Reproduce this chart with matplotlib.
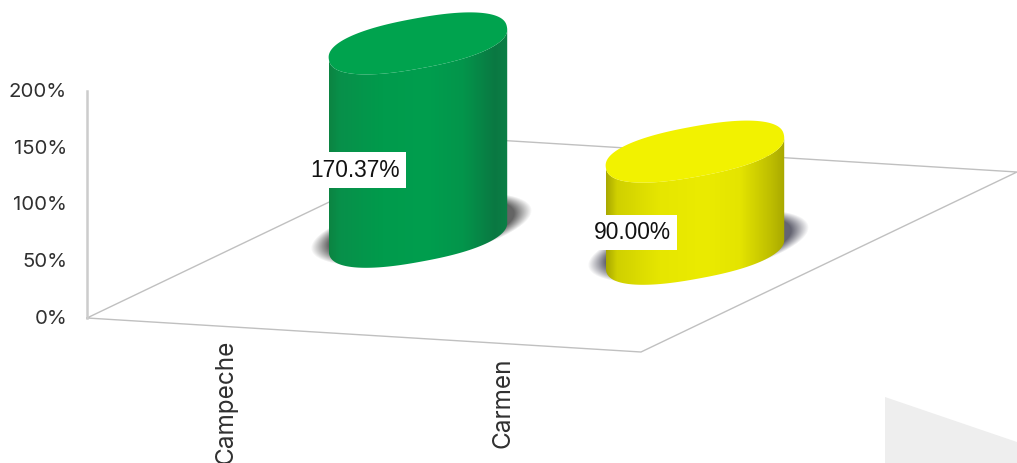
import numpy as np
import matplotlib
matplotlib.use('Agg')
import matplotlib.pyplot as plt
from matplotlib.colors import LinearSegmentedColormap, to_rgb
from matplotlib.patches import Polygon, PathPatch
from matplotlib.path import Path

categories = ['Campeche', 'Carmen']
values = [170.37, 90.00]
value_labels = ['170.37%', '90.00%']
y_ticks = [0, 50, 100, 150, 200]
y_tick_labels = ['0%', '50%', '100%', '150%', '200%']

shade_stops = [0.0, 0.06, 0.3, 0.55, 0.75, 0.93, 1.0]
body_colors = [
    ['#0c8442', '#08904a', '#009b4c', '#009e4e', '#03954b', '#0a7842', '#0a8046'],
    ['#a8a800', '#d0d000', '#e6e600', '#ebeb00', '#e4e400', '#bcbc00', '#a8a800'],
]
top_colors = ['#00a34e', '#f2f200']
shadow_colors = ['#484848', '#484858']

# projection of the floor and value axis onto the image, in pixels
ORIGIN = np.array([87.0, 318.0])
CAT_STEP = np.array([277.0, 17.0])
DEPTH = np.array([376.0, -180.0])
PX_PER_PCT = 227.0 / 200.0
CAT_OFFSET = 0.516

# bar section: slightly squared ellipse, tilted
TILT = np.radians(10.5)
MAJOR = 90.5 * np.array([np.cos(TILT), -np.sin(TILT)])
MINOR = 25.0 * np.array([np.sin(TILT), np.cos(TILT)])
ROUND = 0.85


def floor_point(cat: float, depth: float) -> np.ndarray:
    return ORIGIN + cat * CAT_STEP + depth * DEPTH


def section(center: np.ndarray, t: np.ndarray) -> np.ndarray:
    c = np.sign(np.cos(t)) * np.abs(np.cos(t)) ** ROUND
    s = np.sign(np.sin(t)) * np.abs(np.sin(t)) ** ROUND
    return center + np.outer(c, MAJOR) + np.outer(s, MINOR)


fig = plt.figure(figsize=(10.17, 4.63), dpi=100)
ax = fig.add_axes([0, 0, 1, 1])

# faint wedge in the corner
ax.add_patch(Polygon([(885, 397), (1017, 442), (1017, 463), (885, 463)],
                     closed=True, facecolor='#eeeeee', edgecolor='none', zorder=0))

# floor and value axis
corners = [floor_point(0, 0), floor_point(2, 0), floor_point(2, 1), floor_point(0, 1), floor_point(0, 0)]
ax.plot([c[0] for c in corners], [c[1] for c in corners], color='#c0c0c0', lw=1.0, zorder=1)
ax.plot([ORIGIN[0]] * 2, [ORIGIN[1], ORIGIN[1] - max(y_ticks) * PX_PER_PCT], color='#cccccc', lw=1.8, zorder=1)

for tick, label in zip(y_ticks, y_tick_labels):
    ax.text(67, ORIGIN[1] - tick * PX_PER_PCT + 1, label, ha='right', va='center',
            fontsize=14.7, family='Inter', color='#303030')

xx, yy = np.meshgrid(np.arange(0, 1017), np.arange(0, 463))
basis_inv = np.linalg.inv(np.column_stack([MAJOR, MINOR]))
ring = np.linspace(0, 2 * np.pi, 720)
ring_x = section(np.zeros(2), ring)[:, 0]
front = np.linspace(ring[np.argmax(ring_x)], ring[np.argmin(ring_x)], 200)

for i, value in enumerate(values):
    base = floor_point(i + CAT_OFFSET, 0.5)
    top = base - np.array([0.0, value * PX_PER_PCT])

    # soft shadow round the foot of the bar
    dx = xx - (base[0] + 3)
    dy = yy - (base[1] - 8)
    s = basis_inv[0, 0] * dx + basis_inv[0, 1] * dy
    r = basis_inv[1, 0] * dx + basis_inv[1, 1] * dy
    alpha = np.clip((1.24 - np.hypot(s, r)) / 0.2, 0, 1)
    shadow = np.zeros(xx.shape + (4,))
    shadow[..., :3] = to_rgb(shadow_colors[i])
    shadow[..., 3] = alpha * 0.85
    ax.imshow(shadow, extent=(0, 1017, 463, 0), aspect='auto', zorder=2)

    # side of the cylinder, shaded across its width
    lower = section(base, front)
    upper = section(top, front[::-1])
    outline = np.vstack([lower, upper, lower[:1]])
    codes = [Path.MOVETO] + [Path.LINETO] * (len(outline) - 2) + [Path.CLOSEPOLY]
    clip = PathPatch(Path(outline, codes), facecolor='none', edgecolor='none', zorder=3)
    ax.add_patch(clip)
    cmap = LinearSegmentedColormap.from_list('side', list(zip(shade_stops, body_colors[i])))
    xmin, xmax = outline[:, 0].min(), outline[:, 0].max()
    side = ax.imshow(np.linspace(0, 1, 256).reshape(1, -1), cmap=cmap, aspect='auto',
                     extent=(xmin, xmax, outline[:, 1].max(), outline[:, 1].min()), zorder=3)
    side.set_clip_path(clip)

    ax.add_patch(Polygon(section(top, ring), closed=True, facecolor=top_colors[i],
                         edgecolor='none', zorder=4))

    ax.text((base[0] + top[0]) / 2 - 63, (base[1] + top[1]) / 2 + 30, value_labels[i],
            ha='center', va='center', fontsize=16.4, family='Liberation Sans', color='#111111',
            bbox=dict(facecolor='white', edgecolor='none', pad=4.5), zorder=5)

# category labels are cut by the bottom of the image
ax.text(226, 340, categories[0], rotation=90, ha='center', va='top', fontsize=17.5,
        family='Inter', color='#303030', clip_on=True)
ax.text(503, 358, categories[1], rotation=90, ha='center', va='top', fontsize=17.5,
        family='Inter', color='#303030', clip_on=True)

ax.set_xlim(0, 1017)
ax.set_ylim(463, 0)
ax.axis('off')

fig.savefig('out.png', dpi=100, facecolor='white')
